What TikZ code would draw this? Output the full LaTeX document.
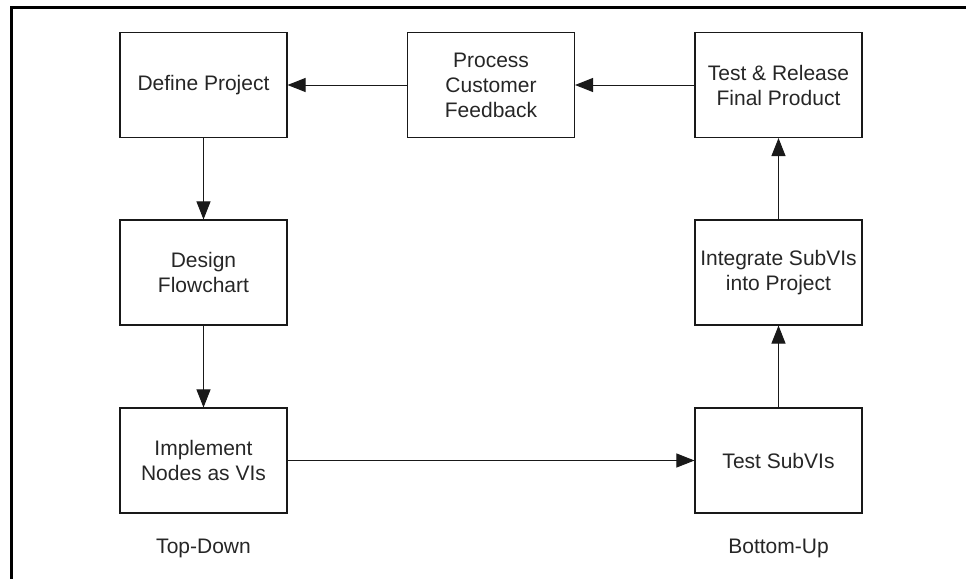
\documentclass[tikz,border=0pt]{standalone}
\usepackage{fontspec}
\setmainfont{Liberation Sans}
\usetikzlibrary{arrows.meta}
\usetikzlibrary{positioning}

\begin{document}
\begin{tikzpicture}[x=1pt,y=-1pt,every node/.style = {align=center},
  stage/.style = {draw=black!90, line width=1.1pt, minimum width=167pt, minimum height=105pt, inner sep=0pt,
    font=\fontsize{21}{25}\selectfont, text=black!85},
  caption/.style = {font=\fontsize{21}{25}\selectfont, text=black!85},
  flow/.style = {-{Triangle[length=18pt,width=14pt]}, line width=1pt, draw=black!90}]
\useasboundingbox (0,0) rectangle (966,579);
\draw[line width=2.6pt] (966,7.5) -- (11.5,7.5) -- (11.5,579);
\node[stage] (define) at (203.5,85) {Define Project};
\node[stage] (feedback) at (491,85) {Process\\Customer\\Feedback};
\node[stage] (release) at (778.5,85) {Test \& Release\\Final Product};
\node[stage] (design) at (203.5,272.5) {Design\\Flowchart};
\node[stage] (integrate) at (778.5,272.5) {Integrate SubVIs\\into Project};
\node[stage] (implement) at (203.5,460.5) {Implement\\Nodes as VIs};
\node[stage] (testsub) at (778.5,460.5) {Test SubVIs};
\node[caption] (topdown) at (203.5,548) {Top-Down};
\node[caption] (bottomup) at (778.5,548) {Bottom-Up};
\draw[flow] (define) -- (design);
\draw[flow] (design) -- (implement);
\draw[flow] (implement) -- (testsub);
\draw[flow] (testsub) -- (integrate);
\draw[flow] (integrate) -- (release);
\draw[flow] (release) -- (feedback);
\draw[flow] (feedback) -- (define);
\end{tikzpicture}
\end{document}
